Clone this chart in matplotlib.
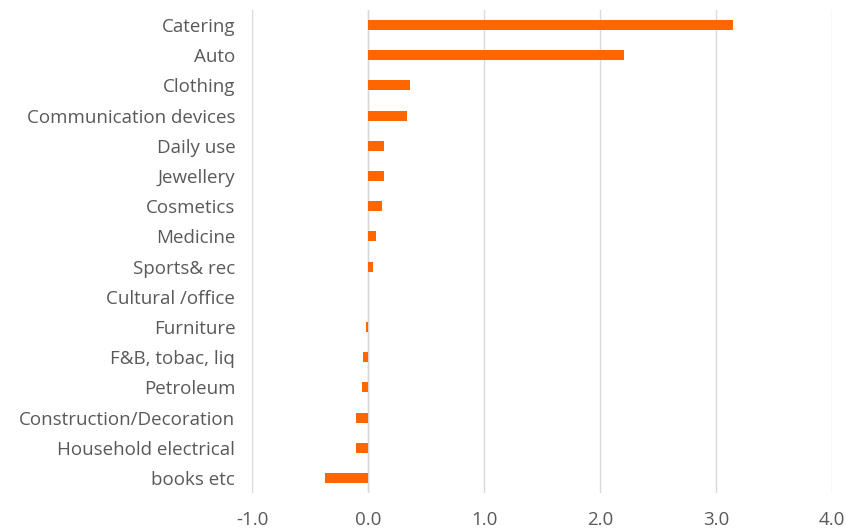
import matplotlib
matplotlib.use("Agg")
import matplotlib.pyplot as plt

categories = ["Catering", "Auto", "Clothing", "Communication devices", "Daily use",
              "Jewellery", "Cosmetics", "Medicine", "Sports& rec", "Cultural /office",
              "Furniture", "F&B, tobac, liq", "Petroleum", "Construction/Decoration",
              "Household electrical", "books etc"]
values = [3.15, 2.21, 0.36, 0.34, 0.14, 0.14, 0.12, 0.07, 0.04, 0.0,
          -0.02, -0.04, -0.055, -0.10, -0.10, -0.37]
xticks = [-1.0, 0.0, 1.0, 2.0, 3.0, 4.0]

plt.rcParams['font.family'] = ['Open Sans', 'DejaVu Sans']

fig = plt.figure(figsize=(8.46, 5.31), dpi=100)
ax = fig.add_axes([252/846, (531-493)/531, (832-252)/846, (493-10)/531])

pos = list(range(len(categories)))
ax.barh(pos, values, height=0.33, color="#FF6600", zorder=3)
ax.set_ylim(len(categories)-0.5, -0.5)
ax.set_xlim(-1.0, 4.0)
ax.set_xticks(xticks)
ax.set_xticklabels([f"{t:.1f}" for t in xticks])
ax.set_yticks(pos)
ax.set_yticklabels(categories)
ax.grid(axis="x", color="#D9D9D9", linewidth=1, zorder=0)
ax.axvline(0, color="#D9D9D9", linewidth=1, zorder=1)
for s in ax.spines.values():
    s.set_visible(False)
ax.tick_params(axis="both", length=0, colors="#595959", labelsize=13.5)
ax.tick_params(axis="y", pad=12)
ax.tick_params(axis="x", pad=13)

fig.savefig("out.png", dpi=100)
